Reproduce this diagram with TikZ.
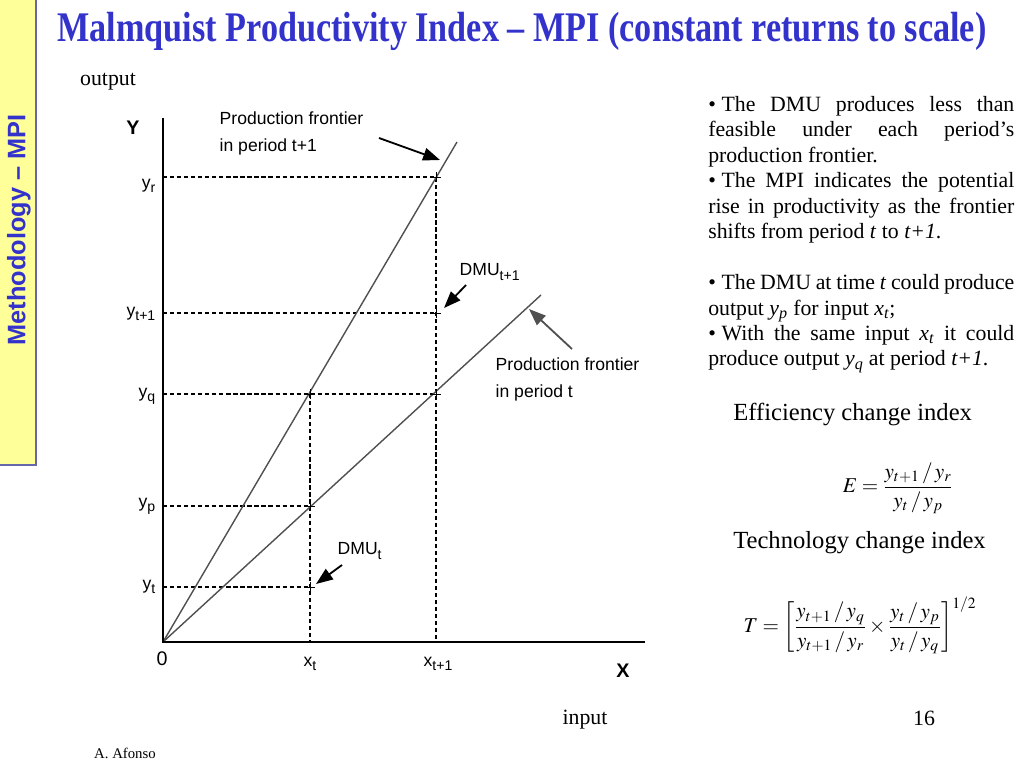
\documentclass[tikz,border=0pt]{standalone}
\usepackage{amsmath}
\usepackage{graphicx}
\usepackage{mathptmx}
\usepackage{fontspec}
\setmainfont{Liberation Serif}
\newfontfamily\graphfont{Liberation Sans}
\usepackage{tikz}
\usetikzlibrary{arrows.meta}
\hyphenpenalty=10000
\exhyphenpenalty=10000
\tolerance=9999
\definecolor{titleblue}{RGB}{51,51,204}
\definecolor{sidebar}{RGB}{255,255,153}
\definecolor{sideline}{RGB}{102,102,170}
\definecolor{frontier}{RGB}{80,80,80}
\newcommand{\lsub}[1]{\raisebox{-0.45ex}{\fontsize{10}{10}\selectfont #1}}
\newcommand{\bul}{\textbullet\hspace{4pt}}
\tikzset{PLUS/.style={inner sep=0pt, minimum size=6.5pt, append after command={
        [line width=1.1pt]
        (\tikzlastnode.north) edge (\tikzlastnode.south)
        (\tikzlastnode.east) edge (\tikzlastnode.west)
        }
    },
    lbl/.style={font=\graphfont\fontsize{12.5}{19}\selectfont, inner sep=1pt},
    guide/.style={dash pattern=on 3pt off 2pt, line width=0.9pt},
    pointer/.style={-{Triangle[length=12pt,width=9pt]}, line width=1.3pt},
    body/.style={font=\fontsize{15.5}{18.1}\selectfont, inner sep=0pt}
}

\begin{document}
\begin{tikzpicture}[x=0.025cm, y=-0.025cm]
            \useasboundingbox (0,0) rectangle (1024,768);
            % side bar and title
            \draw[sideline, fill=sidebar, line width=1pt] (-5,-5) rectangle (36,465);
            \node[rotate=90, text=titleblue, font=\graphfont\bfseries\fontsize{18}{20}\selectfont] (side) at (19,230) {Methodology – MPI};
            \node[text=titleblue, font=\bfseries\fontsize{30}{32}\selectfont] (title) at (522,31) {\scalebox{0.81}[1]{Malmquist Productivity Index – MPI (constant returns to scale)}};
            \node[body] (outlab) at (108,82) {output};
            \node[body] (inlab) at (585,720) {input};
            \node[body] (page) at (924,718) {16};
            \node[body, font=\fontsize{10.5}{12}\selectfont] (author) at (125,753) {A. Afonso};
            % axes and frontiers
            \coordinate (O) at (163,642);
            \coordinate (ytop) at (163,118);
            \coordinate (xend) at (645,642);
            \coordinate (tipA) at (457,142);
            \coordinate (tipB) at (541,295);
            \coordinate (r) at (436,177);
            \coordinate (d1) at (436,313);
            \coordinate (q1) at (310,394);
            \coordinate (q2) at (436,394);
            \coordinate (p) at (310,506);
            \coordinate (d0) at (310,587);
            \draw[guide] (O |- r) -- (r) -- (O -| r);
            \draw[guide] (O |- d1) -- (d1);
            \draw[guide] (O |- q2) -- (q2);
            \draw[guide] (O |- p) -- (p);
            \draw[guide] (O |- d0) -- (d0);
            \draw[guide] (q1) -- (O -| q1);
            \draw[frontier, line width=1pt] (O) to (tipA);
            \draw[frontier, line width=1pt] (O) to (tipB);
            \draw[line width=1.5pt] (ytop) -- (O) -- (xend);
            \node[PLUS] (mr) at (r) {};
            \node[PLUS] (md1) at (d1) {};
            \node[PLUS] (mq1) at (q1) {};
            \node[PLUS] (mq2) at (q2) {};
            \node[PLUS] (mp) at (p) {};
            \node[PLUS] (md0) at (d0) {};
            % axis labels
            \node[lbl, font=\graphfont\bfseries\fontsize{14}{15}\selectfont] (Ylab) at (133,128) {Y};
            \node[lbl, font=\graphfont\bfseries\fontsize{14}{15}\selectfont] (Xlab) at (623,671) {X};
            \node[lbl, font=\graphfont\fontsize{14}{15}\selectfont] (zero) at (162,659) {0};
            \node[lbl, anchor=east] (lyr) at (157,186) {y\lsub{r}};
            \node[lbl, anchor=east] (lyt1) at (157,314) {y\lsub{t+1}};
            \node[lbl, anchor=east] (lyq) at (157,396) {y\lsub{q}};
            \node[lbl, anchor=east] (lyp) at (157,506) {y\lsub{p}};
            \node[lbl, anchor=east] (lyt) at (157,587) {y\lsub{t}};
            \node[lbl] (lxt) at (310,664) {x\lsub{t}};
            \node[lbl] (lxt1) at (438,664) {x\lsub{t+1}};
            % annotations
            \node[lbl, align=left, anchor=north west] (ftA) at (218,110) {Production frontier\\in period t+1};
            \node[lbl, align=left, anchor=north west] (ftB) at (494,356) {Production frontier\\in period t};
            \node[lbl, anchor=west] (dmuA) at (458,272) {DMU\lsub{t+1}};
            \node[lbl, anchor=west] (dmuB) at (336,551) {DMU\lsub{t}};
            \coordinate (aAs) at (379,138);
            \coordinate (aAe) at (440,160);
            \coordinate (aBs) at (572,349);
            \coordinate (aBe) at (529,309);
            \coordinate (aCs) at (466,285);
            \coordinate (aCe) at (444,308);
            \coordinate (aDs) at (342,565);
            \coordinate (aDe) at (316,584);
            \draw[pointer] (aAs) to (aAe);
            \draw[pointer, frontier] (aBs) to (aBe);
            \draw[pointer] (aCs) to (aCe);
            \draw[pointer] (aDs) to (aDe);
            % right-hand text
            \node[body, anchor=north west, text width=7.65cm, align=justify] (notes) at (708,96) {%
                \bul The DMU produces less than feasible under each period’s production frontier.\\
                \bul The MPI indicates the potential rise in productivity as the frontier shifts from period \textit{t} to \textit{t+1}.\\[18.1pt]
                \bul The DMU at time \textit{t} could produce output \textit{y\textsubscript{p}} for input \textit{x\textsubscript{t}};\\
                \bul With the same input \textit{x\textsubscript{t}} it could produce output \textit{y\textsubscript{q}} at period \textit{t+1}.};
            \node[body, anchor=west, font=\fontsize{17.5}{20}\selectfont] (effidx) at (733,414) {Efficiency change index};
            \node[body, anchor=west, font=\fontsize{17.5}{20}\selectfont] (techidx) at (733,543) {Technology change index};
            \node[body, font=\fontsize{15}{18}\selectfont] (Eform) at (898,488) {$E=\dfrac{y_{t+1}\,/\,y_r}{y_t\,/\,y_p}$};
            \node[body, font=\fontsize{15}{18}\selectfont] (Tform) at (860,625) {$T=\left[\dfrac{y_{t+1}\,/\,y_q}{y_{t+1}\,/\,y_r}\times\dfrac{y_t\,/\,y_p}{y_t\,/\,y_q}\right]^{1/2}$};
        \end{tikzpicture}
\end{document}
